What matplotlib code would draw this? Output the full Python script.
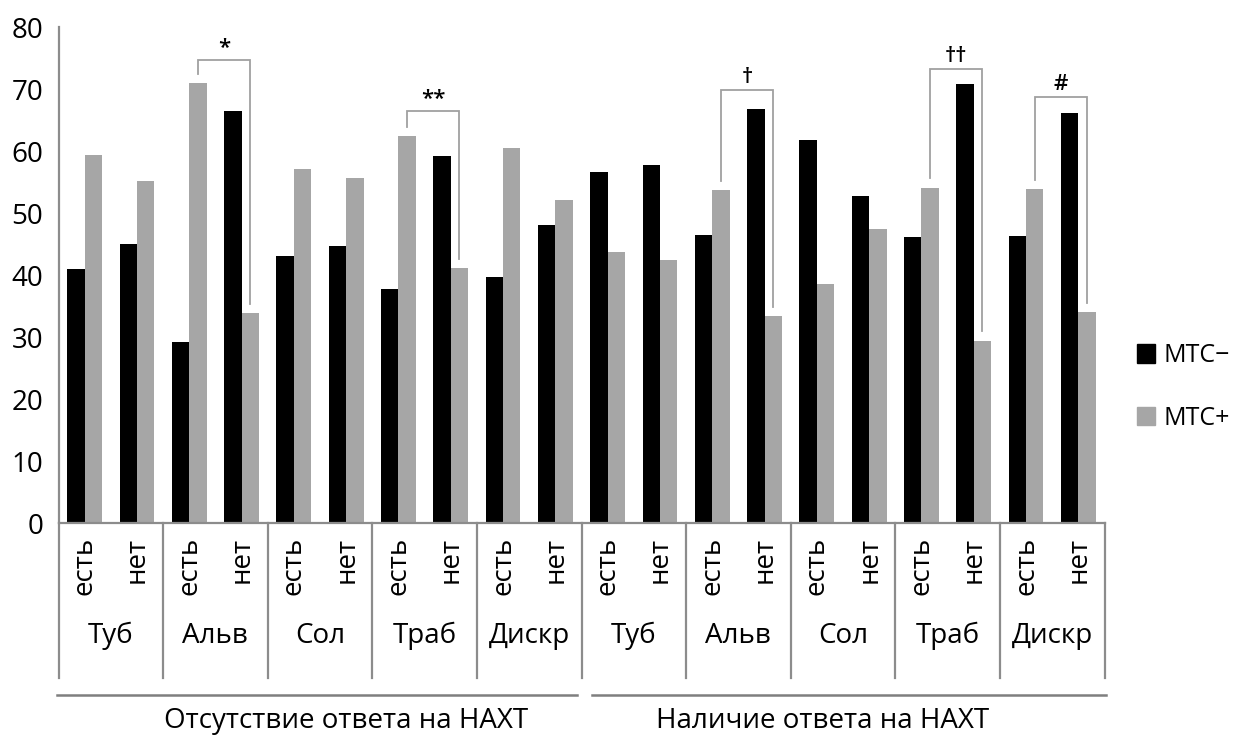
import matplotlib.pyplot as plt
import matplotlib.transforms as mtransforms
from matplotlib.patches import Patch
import numpy as np

plt.rcParams['font.family'] = ['Open Sans', 'DejaVu Sans']

groups = ['Отсутствие ответа на НАХТ', 'Наличие ответа на НАХТ']
features = ['Туб', 'Альв', 'Сол', 'Траб', 'Дискр']
answers = ['есть', 'нет']
series = ['МТС−', 'МТС+']

mtc_neg = [40.9, 45.0, 29.2, 66.4, 43.1, 44.6, 37.8, 59.2, 39.7, 48.1,
           56.6, 57.8, 46.5, 66.8, 61.7, 52.7, 46.1, 70.8, 46.3, 66.2]
mtc_pos = [59.4, 55.2, 71.0, 33.8, 57.1, 55.7, 62.4, 41.1, 60.5, 52.1,
           43.7, 42.4, 53.7, 33.4, 38.6, 47.5, 54.1, 29.4, 53.9, 34.0]

# significance marks: left bar, right bar, bracket level, symbol
sig_left = [2, 6, 12, 16, 18]
sig_right = [3, 7, 13, 17, 19]
sig_level = [74.6, 66.4, 69.8, 73.2, 68.7]
sig_mark = ['*', '**', '†', '††', '#']

BLACK = '#000000'
GREY = '#A6A6A6'
LINE = '#8C8C8C'
W, H = 1238, 738

fig = plt.figure(figsize=(W / 100, H / 100), dpi=100)
ax = fig.add_axes([58.5 / W, 1 - 523 / H, 1046 / W, 496 / H])

x = np.arange(len(mtc_neg))
w = 1 / 3
ax.bar(x - w / 2, mtc_neg, w, color=BLACK, label=series[0])
ax.bar(x + w / 2, mtc_pos, w, color=GREY, label=series[1])

ax.set_xlim(-0.5, len(x) - 0.5)
ax.set_ylim(0, 80)
ax.set_yticks(np.arange(0, 81, 10))
ax.tick_params(axis='y', length=0, pad=11, labelsize=20)
ax.set_xticks([])
for s in ['top', 'right']:
    ax.spines[s].set_visible(False)
for s in ['left', 'bottom']:
    ax.spines[s].set_color(LINE)
    ax.spines[s].set_linewidth(1.6)

# brackets over the MTC+ bars
for l, r, top, mark in zip(sig_left, sig_right, sig_level, sig_mark):
    xl, xr = l + w / 2, r + w / 2
    ax.plot([xl, xl, xr, xr], [mtc_pos[l] + 1.5, top, top, mtc_pos[r] + 1.5],
            color='#A0A0A0', lw=1.3, solid_joinstyle='miter')
    ax.text((xl + xr) / 2, top + 0.4, mark, ha='center', va='bottom',
            fontsize=16, fontweight='semibold')

# multi-level category axis
trans = mtransforms.blended_transform_factory(ax.transData, fig.transFigure)
fy = lambda px: 1 - px / H

for i in x:
    ax.text(i, fy(537), answers[i % 2], rotation=90, ha='center', va='top',
            fontsize=20, transform=trans)

n_feat = len(features)
for k in range(0, len(x) + 1, 2):
    ax.plot([k - 0.5, k - 0.5], [fy(523), fy(678)], color=LINE, lw=1.6,
            transform=trans, clip_on=False)
for j in range(len(x) // 2):
    ax.text(2 * j + 0.5, fy(636), features[j % n_feat], ha='center', va='center',
            fontsize=20, transform=trans)

group_span = [(-0.52, 9.42), (9.7, 19.52)]
group_text_x = [5.0, 14.1]
for (a, b), tx, name in zip(group_span, group_text_x, groups):
    ax.plot([a, b], [fy(695), fy(695)], color='#7F7F7F', lw=1.8,
            transform=trans, clip_on=False)
    ax.text(tx, fy(721), name, ha='center', va='center', fontsize=20, transform=trans)

handles = [Patch(color=BLACK, label=series[0]), Patch(color=GREY, label=series[1])]
fig.legend(handles=handles, loc='center left', bbox_to_anchor=(1124 / W, fy(387)),
           frameon=False, borderpad=0, fontsize=18, handlelength=0.75,
           handleheight=0.75, handletextpad=0.35, labelspacing=1.5)

fig.savefig('out.png', dpi=100)
